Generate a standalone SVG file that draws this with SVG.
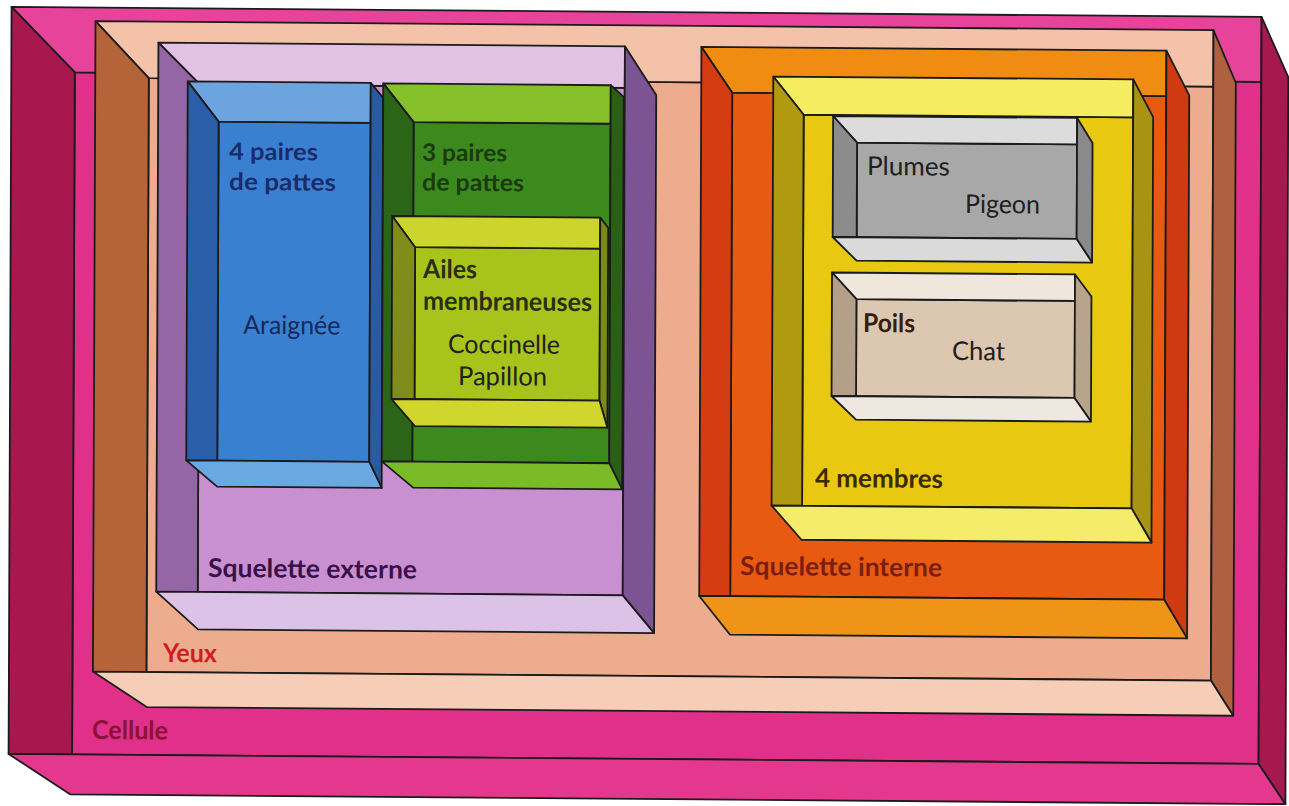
<svg xmlns="http://www.w3.org/2000/svg" width="1289" height="806" viewBox="0 0 1289 806">
<style>
  polygon, rect { stroke:#1b1b1b; stroke-width:1.8; stroke-linejoin:round; }
  text { font-family:Lato, "Open Sans", "Liberation Sans", sans-serif; font-size:26px; }
  .b { font-weight:bold; }
  .s { font-size:24px; }
  .c-ceil{fill:#e8439a}.c-back{fill:#e0308a}.c-left{fill:#a8184e}.c-right{fill:#a51850}.c-bot{fill:#e3388e}
  .y-ceil{fill:#f4c2a8}.y-back{fill:#eeac8e}.y-left{fill:#b5643a}.y-right{fill:#b0603e}.y-bot{fill:#f6ceb8}
  .p-ceil{fill:#e2c2e4}.p-back{fill:#c890d0}.p-left{fill:#9566a5}.p-right{fill:#7c5494}.p-bot{fill:#dcc2e6}
  .bl-ceil{fill:#6ca4e0}.bl-back{fill:#3a80d0}.bl-left{fill:#2a5ea8}.bl-right{fill:#2a5aa0}.bl-bot{fill:#6aa8e2}
  .g-ceil{fill:#86c02a}.g-back{fill:#3c8a1e}.g-left{fill:#2a6518}.g-right{fill:#2a6015}.g-bot{fill:#7cbb28}
  .yg-ceil{fill:#cbd52c}.yg-back{fill:#a8c41c}.yg-left{fill:#808c1c}.yg-right{fill:#7a8a1a}.yg-bot{fill:#d0d62e}
  .o-ceil{fill:#f08c12}.o-back{fill:#e85a12}.o-left{fill:#d43c12}.o-right{fill:#d03a10}.o-bot{fill:#f09418}
  .j-ceil{fill:#f6ec60}.j-back{fill:#e8c810}.j-left{fill:#b09a10}.j-right{fill:#a89412}.j-bot{fill:#f4ec6a}
  .gr-ceil{fill:#dcdcdc}.gr-back{fill:#a8a8a8}.gr-left{fill:#8c8c8c}.gr-right{fill:#8a8a8a}.gr-bot{fill:#dadada}
  .be-ceil{fill:#efe6dc}.be-back{fill:#dcc8b0}.be-left{fill:#b4a088}.be-right{fill:#b8a48c}.be-bot{fill:#efe8e0}
</style>
<rect x="0" y="0" width="1289" height="806" fill="#ffffff" style="stroke:none"/>
<g transform="matrix(1,0.008,-0.004,1,1.61,-5.15)">
  <g id="cellule">
    <rect class="c-back" x="73.5" y="77" width="1186.5" height="682"/>
    <polygon class="c-ceil" points="10,12 1260,12 1260,77 73.5,77"/>
    <polygon class="c-left" points="10,12 73.5,77 73.5,759 10,759"/>
    <polygon class="c-right" points="1260,12 1287,72 1287,799 1260,759"/>
    <polygon class="c-bot" points="10,759 1260,759 1287,799 72,799"/>
    <text class="b" x="93.3" y="743.4" fill="#8a1236" textLength="76" lengthAdjust="spacingAndGlyphs">Cellule</text>
  </g>
  <g id="yeux">
    <rect class="y-back" x="147.5" y="82" width="1064.5" height="594"/>
    <polygon class="y-ceil" points="94,25.5 1212,25.5 1212,82 147.5,82"/>
    <polygon class="y-left" points="94,25.5 147.5,82 147.5,676 94,676"/>
    <polygon class="y-right" points="1212,25.5 1234.5,78 1234.5,711 1212,676"/>
    <polygon class="y-bot" points="94,676 1212,676 1234.5,711 148,711"/>
    <text class="b" x="164" y="665.8" fill="#d01c24" textLength="54" lengthAdjust="spacingAndGlyphs">Yeux</text>
  </g>
  <g id="squelette-externe">
    <rect class="p-back" x="198.5" y="88" width="425" height="507.5"/>
    <polygon class="p-ceil" points="157,46.5 623.5,46.5 623.5,88 198.5,88"/>
    <polygon class="p-left" points="157,46.5 198.5,88 198.5,595.5 157,595.5"/>
    <polygon class="p-right" points="623.5,46.5 655,95 655,633 623.5,595.5"/>
    <polygon class="p-bot" points="157,595.5 623.5,595.5 655,633 199,633"/>
    <text class="b" x="208.7" y="580.5" fill="#3a1048" textLength="209" lengthAdjust="spacingAndGlyphs">Squelette externe</text>
  </g>
  <g id="araignee">
    <rect class="bl-back" x="217.5" y="125" width="152" height="339"/>
    <polygon class="bl-ceil" points="186.5,85 369.5,85 369.5,125 217.5,125"/>
    <polygon class="bl-left" points="186.5,85 217.5,125 217.5,464 186.5,464"/>
    <polygon class="bl-right" points="369.5,85 382,100 382,490 369.5,464"/>
    <polygon class="bl-bot" points="186.5,464 369.5,464 382,490 217.5,490"/>
    <text class="b s" x="228" y="163" fill="#1a2b6b" textLength="89" lengthAdjust="spacingAndGlyphs">4 paires</text>
    <text class="b s" x="228.2" y="193.3" fill="#1a2b6b" textLength="107" lengthAdjust="spacingAndGlyphs">de pattes</text>
    <text x="243" y="337" fill="#16295a" textLength="97" lengthAdjust="spacingAndGlyphs">Araignée</text>
  </g>
  <g id="insectes">
    <rect class="g-back" x="412.5" y="124" width="197" height="339.5"/>
    <polygon class="g-ceil" points="382,85.5 609.5,85.5 609.5,124 412.5,124"/>
    <polygon class="g-left" points="382,85.5 412.5,124 412.5,463.5 382,463.5"/>
    <polygon class="g-right" points="609.5,85.5 622.5,97 622.5,489.5 609.5,463.5"/>
    <polygon class="g-bot" points="382,463.5 609.5,463.5 622.5,489.5 413.5,489.5"/>
    <text class="b s" x="421" y="162.5" fill="#1a3a10" textLength="85" lengthAdjust="spacingAndGlyphs">3 paires</text>
    <text class="b s" x="421.2" y="192.2" fill="#1a3a10" textLength="102" lengthAdjust="spacingAndGlyphs">de pattes</text>
  </g>
  <g id="ailes">
    <rect class="yg-back" x="414.5" y="249" width="185" height="152"/>
    <polygon class="yg-ceil" points="391.5,218 599.5,218 599.5,249 414.5,249"/>
    <polygon class="yg-left" points="391.5,218 414.5,249 414.5,401 391.5,401"/>
    <polygon class="yg-right" points="599.5,218 607.5,228 607.5,428 599.5,401"/>
    <polygon class="yg-bot" points="391.5,401 599.5,401 607.5,428 415,428"/>
    <text class="b" x="422.5" y="279.8" fill="#283010" textLength="54" lengthAdjust="spacingAndGlyphs">Ailes</text>
    <text class="b" x="422.6" y="311.6" fill="#283010" textLength="169" lengthAdjust="spacingAndGlyphs">membraneuses</text>
    <text x="447.8" y="354.6" fill="#202020" textLength="112" lengthAdjust="spacingAndGlyphs">Coccinelle</text>
    <text x="457.9" y="386.5" fill="#202020" textLength="89" lengthAdjust="spacingAndGlyphs">Papillon</text>
  </g>
  <g id="squelette-interne">
    <rect class="o-back" x="731" y="92" width="434" height="503.5"/>
    <polygon class="o-ceil" points="700,46.5 1165,46.5 1165,92 731,92"/>
    <polygon class="o-left" points="700,46.5 731,92 731,595.5 700,595.5"/>
    <polygon class="o-right" points="1165,46.5 1188,91 1188,634 1165,595.5"/>
    <polygon class="o-bot" points="700,595.5 1165,595.5 1188,634 731,634"/>
    <text class="b" x="740.7" y="574.2" fill="#7a1f10" textLength="202" lengthAdjust="spacingAndGlyphs">Squelette interne</text>
  </g>
  <g id="quatre-membres">
    <rect class="j-back" x="802.5" y="113.5" width="329.5" height="391"/>
    <polygon class="j-ceil" points="772,75.5 1132,75.5 1132,113.5 802.5,113.5"/>
    <polygon class="j-left" points="772,75.5 802.5,113.5 802.5,504.5 772,504.5"/>
    <polygon class="j-right" points="1132,75.5 1152,113 1152,538.5 1132,504.5"/>
    <polygon class="j-bot" points="772,504.5 1132,504.5 1152,538.5 802,538.5"/>
    <text class="b" x="815.3" y="485.6" fill="#3a2a00" textLength="128" lengthAdjust="spacingAndGlyphs">4 membres</text>
  </g>
  <g id="plumes">
    <rect class="gr-back" x="856" y="141" width="220" height="94.5"/>
    <polygon class="gr-ceil" points="832,114.5 1076,114.5 1076,141 856,141"/>
    <polygon class="gr-left" points="832,114.5 856,141 856,235.5 832,235.5"/>
    <polygon class="gr-right" points="1076,114.5 1091.5,139.5 1091.5,259 1076,235.5"/>
    <polygon class="gr-bot" points="832,235.5 1076,235.5 1091.5,259 856,259"/>
    <text x="866" y="173.2" fill="#202020" textLength="83" lengthAdjust="spacingAndGlyphs">Plumes</text>
    <text x="964.2" y="210.4" fill="#202020" textLength="75" lengthAdjust="spacingAndGlyphs">Pigeon</text>
  </g>
  <g id="poils">
    <rect class="be-back" x="856" y="297.5" width="218.5" height="97"/>
    <polygon class="be-ceil" points="831.5,271 1074.5,271 1074.5,297.5 856,297.5"/>
    <polygon class="be-left" points="831.5,271 856,297.5 856,394.5 831.5,394.5"/>
    <polygon class="be-right" points="1074.5,271 1091,293 1091,418 1074.5,394.5"/>
    <polygon class="be-bot" points="831.5,394.5 1074.5,394.5 1091,418 856,418"/>
    <text class="b" x="862.7" y="330.2" fill="#3a1c0c" textLength="52" lengthAdjust="spacingAndGlyphs">Poils</text>
    <text x="951.8" y="357.5" fill="#202020" textLength="53" lengthAdjust="spacingAndGlyphs">Chat</text>
  </g>
  <g id="connectors"/>
</g>
</svg>
